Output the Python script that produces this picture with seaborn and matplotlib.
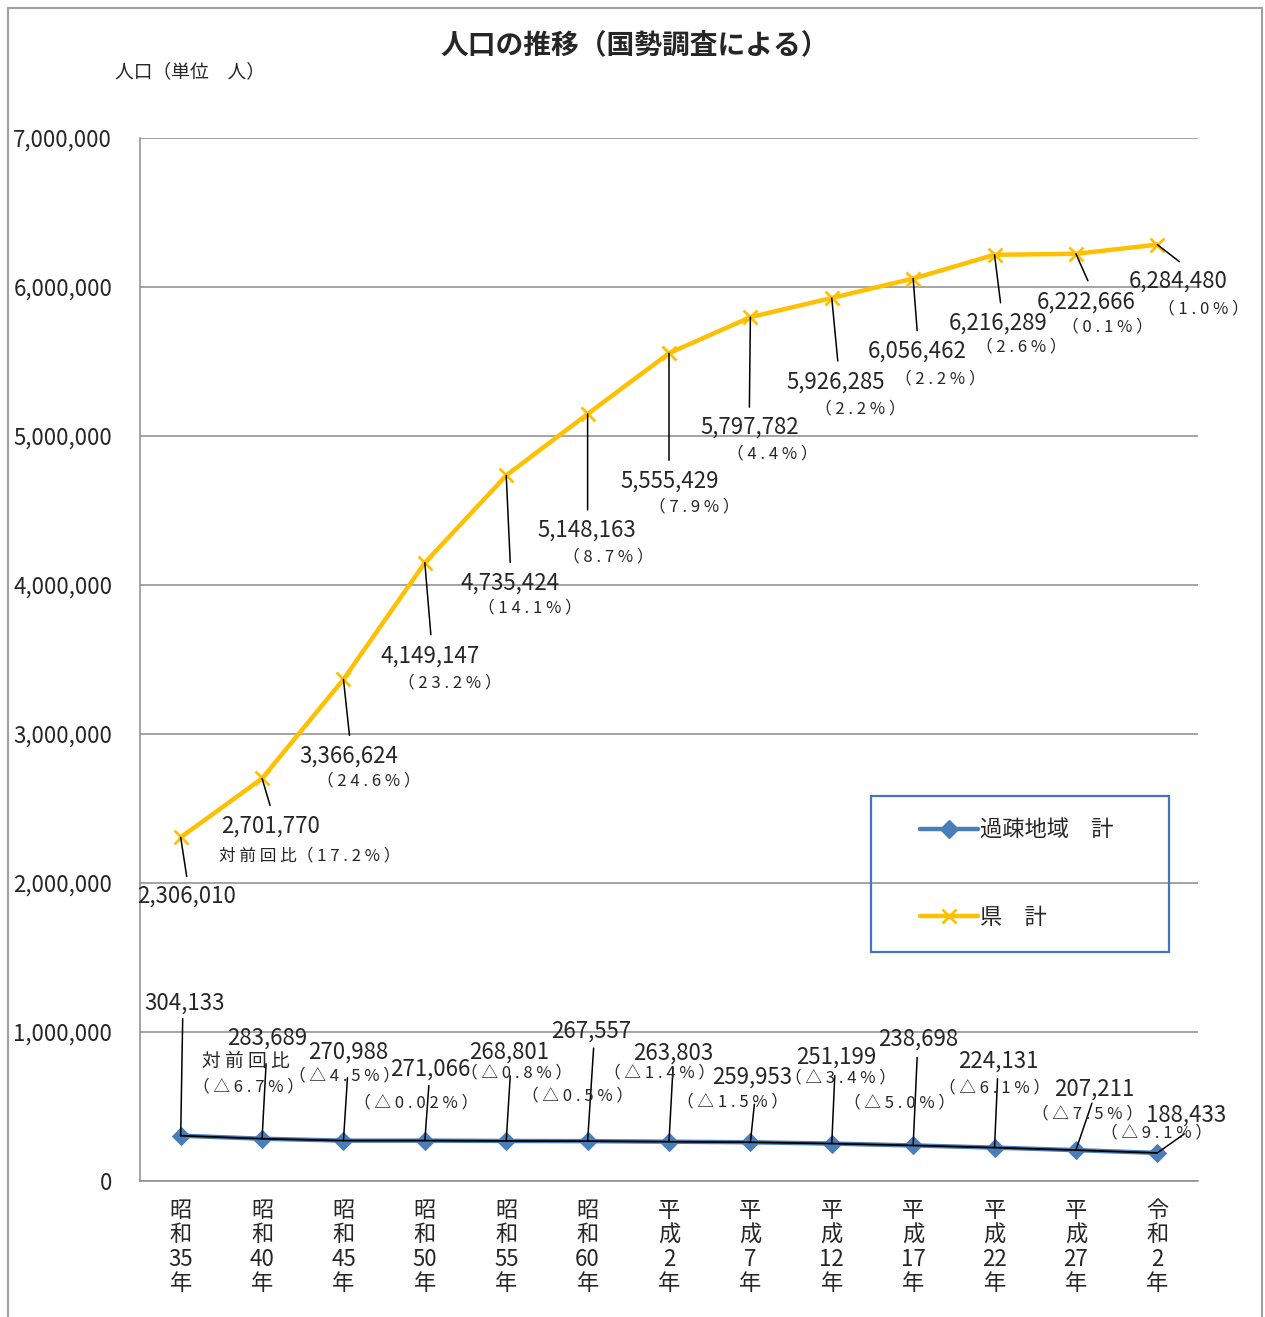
import matplotlib
matplotlib.use("Agg")
import matplotlib.pyplot as plt
from matplotlib.patches import Rectangle
from matplotlib.ticker import FuncFormatter
import seaborn as sns
import pandas as pd

# data
eras = ["昭和", "昭和", "昭和", "昭和", "昭和", "昭和", "平成", "平成", "平成", "平成", "平成", "平成", "令和"]
years = ["35", "40", "45", "50", "55", "60", "2", "7", "12", "17", "22", "27", "2"]
kasoku = [304133, 283689, 270988, 271066, 268801, 267557, 263803, 259953, 251199, 238698, 224131, 207211, 188433]
kenkei = [2306010, 2701770, 3366624, 4149147, 4735424, 5148163, 5555429, 5797782, 5926285, 6056462, 6216289, 6222666, 6284480]
kasoku_rate = ["", "△6.7", "△4.5", "△0.02", "△0.8", "△0.5", "△1.4", "△1.5", "△3.4", "△5.0", "△6.1", "△7.5", "△9.1"]
kenkei_rate = ["", "17.2", "24.6", "23.2", "14.1", "8.7", "7.9", "4.4", "2.2", "2.2", "2.6", "0.1", "1.0"]
series_names = ["過疎地域　計", "県　計"]

# label placement (pixel offsets from each point, y measured downward)
ken_val_off = [(6, 59), (8, 48), (5, 77), (5, 93), (4, 108), (-1, 116), (1, 128), (-1, 110), (4, 84), (4, 73), (4, 68), (10, 48), (21, 36)]
ken_pct_off = [None, (48, 77), (25, 102), (25, 120), (24, 132), (21, 143), (25, 154), (22, 137), (28, 111), (27, 100), (27, 92), (31, 73), (46, 64)]
ken_line_off = [(6, 39), (8, 27), (6, 56), (6, 72), (4, 87), (0, 96), (0, 107), (-1, 90), (6, 63), (4, 52), (6, 48), (12, 27), (22, 17)]
kas_val_off = [(4, -133), (5, -101), (5, -89), (5, -72), (3, -89), (4, -110), (4, -89), (2, -65), (4, -86), (5, -106), (4, -86), (18, -61), (29, -38)]
kas_pct_off = [None, (-14, -52), (1, -65), (-9, -38), (10, -68), (-10, -45), (-9, -69), (-18, -40), (9, -66), (-14, -43), (0, -60), (12, -36), (-1, -20)]
kas_line_off = [(2, -117), (4, -75), (4, -63), (4, -55), (4, -65), (6, -93), (4, -74), (4, -38), (3, -68), (4, -88), (3, -69), (16, -47), (27, -19)]

BLUE = "#4A7EBB"
YELLOW = "#FFC000"
GRID = "#8C8C8C"

sns.set_style("white")
plt.rcParams["font.family"] = ["Noto Sans CJK JP", "DejaVu Sans"]

x = list(range(len(years)))
df = pd.DataFrame({"x": x, "kasoku": kasoku, "kenkei": kenkei})

fig = plt.figure(figsize=(12.65, 13.17), dpi=100)
ax = fig.add_axes([140 / 1265, 1 - 1181 / 1317, 1058 / 1265, 1043 / 1317])

sns.lineplot(data=df, x="x", y="kasoku", color=BLUE, marker="D", linewidth=3.2,
             markersize=9, markeredgecolor=BLUE, ax=ax, zorder=3)
sns.lineplot(data=df, x="x", y="kenkei", color=YELLOW, marker="x", linewidth=3.2,
             markersize=10, markeredgewidth=2, markeredgecolor=YELLOW, ax=ax, zorder=3)
# thin dark line Excel draws over the lower series
ax.plot(x, kasoku, color="black", lw=1.3, zorder=4)

ax.set_xlim(-0.5, 12.5)
ax.set_ylim(0, 7000000)
ax.set_yticks(range(0, 7000001, 1000000))
ax.yaxis.set_major_formatter(FuncFormatter(lambda v, p: f"{int(v):,}"))
ax.grid(axis="y", color=GRID, lw=1.1)
ax.set_axisbelow(True)
for s in ["top", "right"]:
    ax.spines[s].set_visible(False)
for s in ["left", "bottom"]:
    ax.spines[s].set_color(GRID)
    ax.spines[s].set_linewidth(1.1)
ax.tick_params(axis="y", length=6, width=1.1, color=GRID, pad=14, labelsize=16, direction="out")
ax.set_xticks(x)
ax.set_xticklabels([f"{e[0]}\n{e[1]}\n{y}\n年" for e, y in zip(eras, years)], linespacing=1.08)
ax.tick_params(axis="x", length=0, pad=13, labelsize=16)
ax.set_xticks([i - 0.5 for i in range(len(x) + 1)], minor=True)
ax.tick_params(axis="x", which="minor", length=10, width=1.1, color=GRID, direction="out")
ax.set_xlabel("")
ax.set_ylabel("")


def spaced(s):
    # the original labels are drawn with wide letter spacing
    return " ".join(s)


def leader(i, v, off):
    ax.annotate("", xy=(i, v), xytext=(off[0], -off[1]), textcoords="offset pixels",
                arrowprops=dict(arrowstyle="-", color="black", lw=1.1, shrinkA=0, shrinkB=0),
                zorder=5)


def label(i, v, text, off, size):
    ax.annotate(text, xy=(i, v), xytext=(off[0], -off[1]), textcoords="offset pixels",
                ha="center", va="center", fontsize=size, zorder=6)


for i in x:
    leader(i, kenkei[i], ken_line_off[i])
    label(i, kenkei[i], f"{kenkei[i]:,}", ken_val_off[i], 16)
    if kenkei_rate[i]:
        pre = "対 前 回 比" if i == 1 else ""
        label(i, kenkei[i], pre + spaced(f"（{kenkei_rate[i]}%）"), ken_pct_off[i], 12)
    leader(i, kasoku[i], kas_line_off[i])
    label(i, kasoku[i], f"{kasoku[i]:,}", kas_val_off[i], 16)
    if kasoku_rate[i]:
        label(i, kasoku[i], spaced(f"（{kasoku_rate[i]}%）"), kas_pct_off[i], 12)
# header over the first lower-series rate
label(1, kasoku[1], "対 前 回 比", (-16, -77), 13.5)

# legend in a transparent framed box
ax.add_patch(Rectangle((731 / 1058, 229 / 1043), 298 / 1058, 156 / 1043, transform=ax.transAxes,
                       fill=False, edgecolor="#4472C4", lw=1.6, zorder=6))
h1, = ax.plot([], [], color=BLUE, lw=3.2, marker="D", markersize=9)
h2, = ax.plot([], [], color=YELLOW, lw=3.2, marker="x", markersize=10, markeredgewidth=2)
ax.legend([h1, h2], series_names, loc="center", bbox_to_anchor=(877 / 1058, 307 / 1043),
          frameon=False, fontsize=16, labelspacing=2.9, handlelength=2.6, handletextpad=0.1)

fig.text(635 / 1265, 1 - 45 / 1317, "人口の推移（国勢調査による）", ha="center", va="center",
         fontsize=20, fontweight="bold")
fig.text(190 / 1265, 1 - 72 / 1317, "人口（単位　人）", ha="center", va="center", fontsize=13.5)

fig.add_artist(Rectangle((8 / 1265, -0.01), 1254 / 1265, 1 - 8 / 1317 + 0.01, transform=fig.transFigure,
                         fill=False, edgecolor="#A0A0A0", lw=1.5))

fig.savefig("out.png", dpi=100)
